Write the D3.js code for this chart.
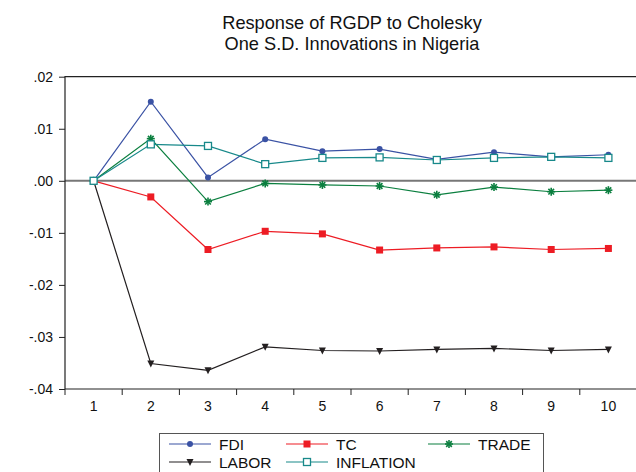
<!DOCTYPE html>
<html><head><meta charset="utf-8">
<script src="https://cdn.jsdelivr.net/npm/d3@7"></script>
<style>body{margin:0;background:#fff;} text{font-family:"Liberation Sans",Arial,sans-serif;}</style>
</head><body>
<svg id="c" width="636" height="472"></svg>
<script>
const periods = [1,2,3,4,5,6,7,8,9,10];
const FDI = [0, 0.0152, 0.00065, 0.0080, 0.0057, 0.0061, 0.0041, 0.0055, 0.0046, 0.0050];
const TC = [0, -0.0031, -0.0132, -0.0097, -0.0102, -0.0133, -0.0129, -0.0127, -0.0132, -0.0130];
const TRADE = [0, 0.0081, -0.0040, -0.0005, -0.0008, -0.0010, -0.0027, -0.0012, -0.0021, -0.0018];
const LABOR = [0, -0.0351, -0.0364, -0.0319, -0.0326, -0.0327, -0.0324, -0.0322, -0.0326, -0.0324];
const INFLATION = [0, 0.0070, 0.0067, 0.0032, 0.0044, 0.0045, 0.0040, 0.0044, 0.0046, 0.0044];
const yTicks = [0.02, 0.01, 0, -0.01, -0.02, -0.03, -0.04];
const yTickLabels = [".02", ".01", ".00", "-.01", "-.02", "-.03", "-.04"];
const titleLines = ["Response of RGDP to Cholesky", "One S.D. Innovations in Nigeria"];

const series = [
  {name:"FDI", values:FDI, color:"#3a52a4", marker:"circle"},
  {name:"TC", values:TC, color:"#ed1c24", marker:"square"},
  {name:"TRADE", values:TRADE, color:"#0b7f3f", marker:"asterisk"},
  {name:"LABOR", values:LABOR, color:"#231f20", marker:"triangle"},
  {name:"INFLATION", values:INFLATION, color:"#18898a", marker:"hollow"}
];

const svg = d3.select("#c");
const L = 65, R = 637, T = 76.7, B = 389;
const x = d3.scaleBand().domain(periods).range([L, R]);
const y = d3.scaleLinear().domain([-0.04, 0.02]).range([B, T]);
const cx = d3.scalePoint().domain(periods).range([L + x.bandwidth()/2, R - x.bandwidth()/2]);

// title
svg.selectAll("text.title").data(titleLines).join("text")
  .attr("x", 352).attr("y", (d,i)=>28.5 + i*21.5)
  .attr("text-anchor","middle").attr("font-size", 18.2).attr("fill","#111").text(d=>d);

// zero line
svg.append("line").attr("x1",L).attr("x2",R).attr("y1",y(0)).attr("y2",y(0))
  .attr("stroke","#777").attr("stroke-width",2);

// frame
svg.append("path").attr("d",`M${L},${B}V${T}H${R}`).attr("fill","none").attr("stroke","#222").attr("stroke-width",1.2);
svg.append("line").attr("x1",L).attr("x2",R).attr("y1",B).attr("y2",B).attr("stroke","#222").attr("stroke-width",1.2);

// y axis
const yAxis = d3.axisLeft(y).tickValues(yTicks).tickSize(6).tickPadding(6)
  .tickFormat((d,i)=>yTickLabels[i]);
const gy = svg.append("g").attr("transform",`translate(${L},0)`).call(yAxis);
gy.select(".domain").remove();
gy.selectAll("text").attr("font-size",14).attr("fill","#111").style("font-family","Liberation Sans, Arial, sans-serif");
gy.selectAll("line").attr("stroke","#222");

// x axis: ticks at band boundaries
const gx = svg.append("g").attr("transform",`translate(0,${B})`);
gx.selectAll("line").data(periods).join("line")
  .attr("x1",d=>x(d)).attr("x2",d=>x(d)).attr("y1",0).attr("y2",6).attr("stroke","#222");
gx.selectAll("text").data(periods).join("text")
  .attr("x",d=>cx(d)).attr("y",22).attr("text-anchor","middle")
  .attr("font-size",14).attr("fill","#111").text(d=>d);

// lines
const line = d3.line().x((d,i)=>cx(periods[i])).y(d=>y(d));
function drawMarker(g, type, color, px, py){
  if(type==="circle") g.append("circle").attr("cx",px).attr("cy",py).attr("r",3).attr("fill",color);
  else if(type==="square") g.append("rect").attr("x",px-3.5).attr("y",py-3.5).attr("width",7).attr("height",7).attr("fill",color);
  else if(type==="hollow") g.append("rect").attr("x",px-3.5).attr("y",py-3.5).attr("width",7).attr("height",7).attr("fill","#fff").attr("stroke",color).attr("stroke-width",1.3);
  else if(type==="triangle") g.append("path").attr("d",`M${px-3.5},${py-3}L${px+3.5},${py-3}L${px},${py+4}Z`).attr("fill",color);
  else if(type==="asterisk"){
    const r=4;
    for(let k=0;k<4;k++){const a=k*Math.PI/4;
      g.append("line").attr("x1",px-r*Math.cos(a)).attr("y1",py-r*Math.sin(a)).attr("x2",px+r*Math.cos(a)).attr("y2",py+r*Math.sin(a)).attr("stroke",color).attr("stroke-width",1.6);}
  }
}
series.forEach(s=>{
  const g = svg.append("g");
  g.append("path").attr("d",line(s.values)).attr("fill","none").attr("stroke",s.color).attr("stroke-width",1.2);
  s.values.forEach((v,i)=>drawMarker(g,s.marker,s.color,cx(periods[i]),y(v)));
});

// legend
svg.append("rect").attr("x",159.5).attr("y",433.5).attr("width",384).attr("height",50)
  .attr("fill","none").attr("stroke","#555").attr("stroke-width",1);
const legPos = [[169,444],[286,444],[428,444],[169,462],[286,462]];
series.forEach((s,i)=>{
  const [lx,ly] = legPos[i];
  const g = svg.append("g");
  g.append("line").attr("x1",lx).attr("x2",lx+42).attr("y1",ly).attr("y2",ly).attr("stroke",s.color).attr("stroke-width",1.2);
  drawMarker(g,s.marker,s.color,lx+21,ly);
  g.append("text").attr("x",lx+50).attr("y",ly+5.5).attr("font-size",15.5).attr("fill","#111").text(s.name);
});
</script>
</body></html>
